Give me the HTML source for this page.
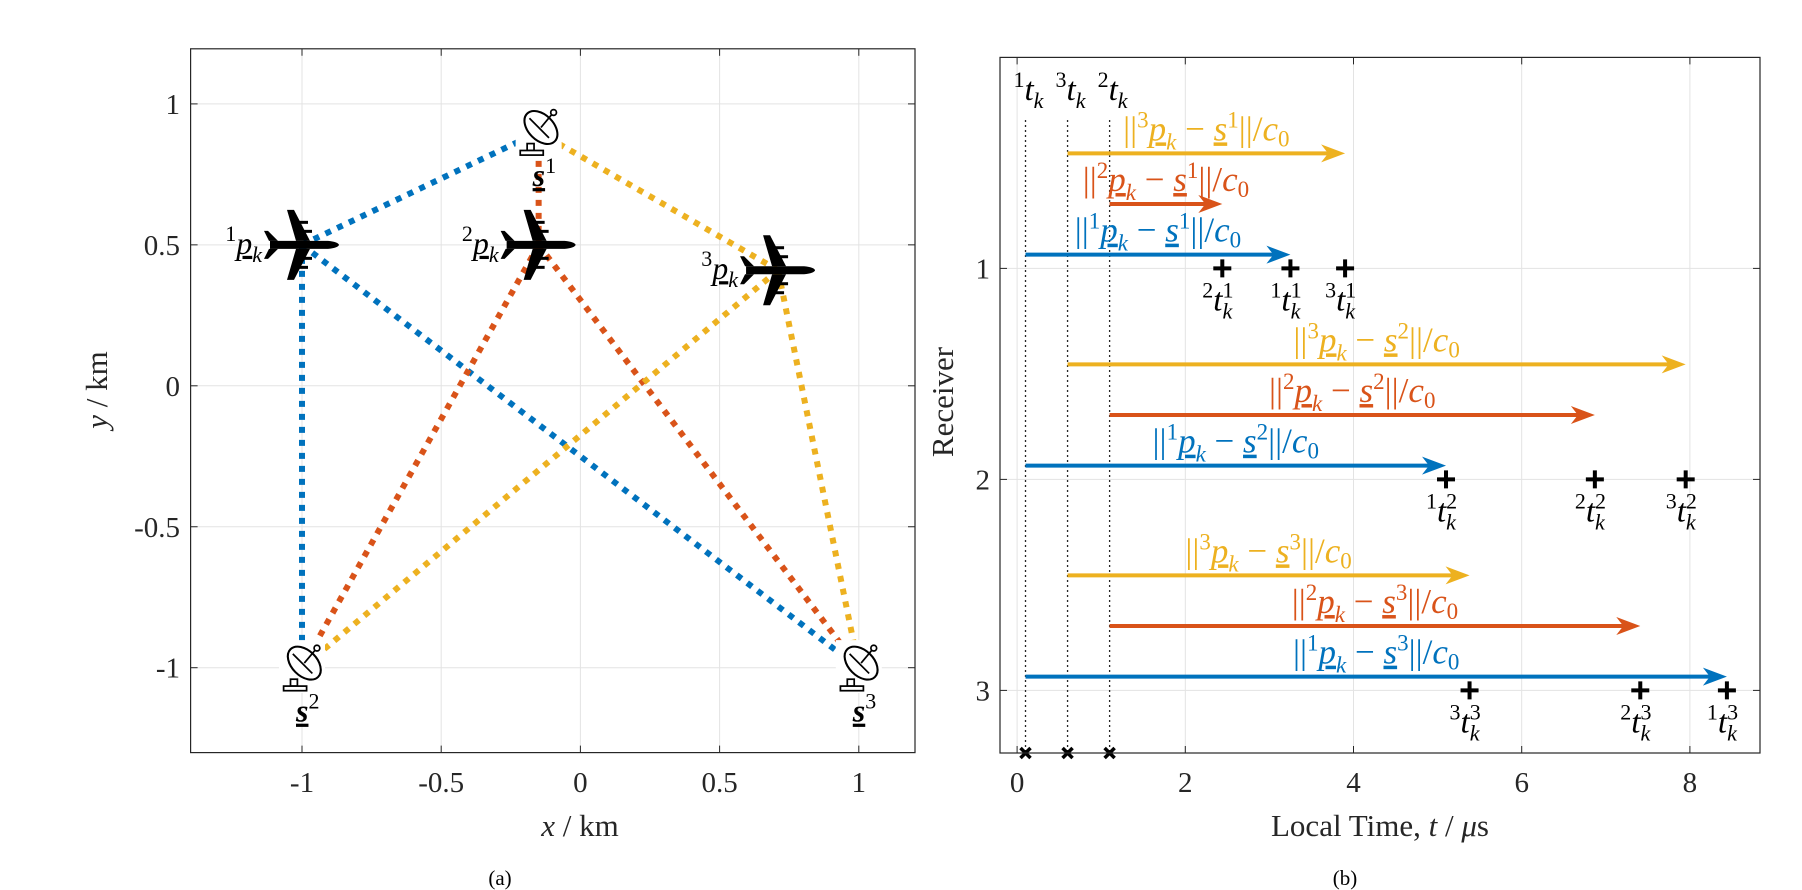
<!DOCTYPE html>
<html><head><meta charset="utf-8"><style>
html,body{margin:0;padding:0;background:#fff;}
svg{display:block;}
text,tspan{font-family:"Liberation Serif","DejaVu Serif",serif;}
</style></head><body>
<svg id="s" width="1802" height="890" viewBox="0 0 1802 890" xmlns="http://www.w3.org/2000/svg"></svg>
<script>
// ---- data (a) ----
const planeX = [-1, -0.15, 0.71];
const planeY = [0.5, 0.5, 0.41];
const sensorX = [-0.15, -1, 1];
const sensorY = [0.9, -1, -1];
const aXTicks = [-1, -0.5, 0, 0.5, 1];
const aXTickLabels = ["-1", "-0.5", "0", "0.5", "1"];
const aYTicks = [1, 0.5, 0, -0.5, -1];
const aYTickLabels = ["1", "0.5", "0", "-0.5", "-1"];
// ---- data (b) ----
const startTimes = [0.1, 1.1, 0.6];          // transmitter 1,2,3
const arrivalsR1 = [3.25, 2.44, 3.9];
const arrivalsR2 = [5.1, 6.87, 7.95];
const arrivalsR3 = [8.44, 7.41, 5.38];
const rowOffsets = [-0.065, -0.305, -0.545];
const bXTicks = [0, 2, 4, 6, 8];
const bXTickLabels = ["0", "2", "4", "6", "8"];
const bYTicks = [1, 2, 3];
const bYTickLabels = ["1", "2", "3"];
const topOrder = [1, 3, 2];

const colors = ["#0072BD", "#D95319", "#EDB120"];
const NS = "http://www.w3.org/2000/svg";
const svg = document.getElementById('s');
function el(tag, attrs, parent) {
  const e = document.createElementNS(NS, tag);
  for (const k in attrs) e.setAttribute(k, attrs[k]);
  (parent || svg).appendChild(e);
  return e;
}
const ax = x => 580.4 + 278.4 * x;
const ay = y => 385.8 - 281.9 * y;
const bx = t => 1017.1 + 84.1 * t;
const by = r => 57.4 + 211 * r;

// ---------- panel (a) ----------
const A = {l: 190.6, r: 915, t: 48.8, b: 752.6};
const B = {l: 1000, r: 1760, t: 57.4, b: 753};
aXTicks.forEach(v => {
  const g = el('line', {x1: ax(v), x2: ax(v), y1: A.t, y2: A.b, stroke: '#e3e3e3', 'stroke-width': 1});
  
  
});
aYTicks.forEach(v => {
  const g = el('line', {x1: A.l, x2: A.r, y1: ay(v), y2: ay(v), stroke: '#e3e3e3', 'stroke-width': 1});
  
  
});
bXTicks.forEach(v => {
  const g = el('line', {x1: bx(v), x2: bx(v), y1: B.t, y2: B.b, stroke: '#e3e3e3', 'stroke-width': 1});
  
  
});
bYTicks.forEach(v => {
  const g = el('line', {x1: B.l, x2: B.r, y1: by(v), y2: by(v), stroke: '#e3e3e3', 'stroke-width': 1});
  
  
});

for (let i = 0; i < 3; i++) {
  for (let j = 0; j < 3; j++) {
    const l = el('line', {x1: ax(planeX[i]), y1: ay(planeY[i]), x2: ax(sensorX[j]), y2: ay(sensorY[j]),
      stroke: colors[i], 'stroke-width': 6, 'stroke-dasharray': '6 7'});
    
    
  }
}
for (let j = 0; j < 3; j++) {
  const g = el('g', {transform: `translate(${ax(sensorX[j])},${ay(sensorY[j])}) scale(1.15)`});
  
  
  el('rect', {x: -20, y: -24, width: 40, height: 46, fill: '#fff'}, g);
  el('ellipse', {cx: 2, cy: -4, rx: 17, ry: 11, transform: 'rotate(45 2 -4)', fill: '#fff', stroke: '#000', 'stroke-width': 1.8}, g);
  el('line', {x1: -8, y1: -12, x2: 9, y2: 5, stroke: '#000', 'stroke-width': 1.5}, g);
  el('line', {x1: 2, y1: -4, x2: 12, y2: -16, stroke: '#000', 'stroke-width': 1.5}, g);
  el('circle', {cx: 13, cy: -17, r: 2.5, fill: '#fff', stroke: '#000', 'stroke-width': 1.5}, g);
  el('rect', {x: -10, y: 10, width: 6, height: 6, fill: '#fff', stroke: '#000', 'stroke-width': 1.5}, g);
  el('rect', {x: -16, y: 16, width: 20, height: 4, fill: '#fff', stroke: '#000', 'stroke-width': 1.5}, g);
  const t = el('text', {x: ax(sensorX[j]) - 6, y: ay(sensorY[j]) + 54, 'font-size': 32, fill: '#000'});
  
  
  t.innerHTML = `<tspan font-style="italic" font-weight="bold" text-decoration="underline">s</tspan><tspan dy="-13" font-size="22">${j + 1}</tspan>`;
}
for (let i = 0; i < 3; i++) {
  const g = el('g', {transform: `translate(${ax(planeX[i])},${ay(planeY[i])})`});
  
  
  el('path', {d: 'M-32,-4 L26,-4 Q36,-3 37,0 Q36,3 26,4 L-32,4 Z', fill: '#000'}, g);
  el('path', {d: 'M8,-4 L-8,-35 L-15,-35 L-6,-4 Z', fill: '#000'}, g);
  el('path', {d: 'M8,4 L-8,35 L-15,35 L-6,4 Z', fill: '#000'}, g);
  el('path', {d: 'M-24,-4 L-34,-14 L-38,-14 L-33,-4 Z', fill: '#000'}, g);
  el('path', {d: 'M-24,4 L-34,14 L-38,14 L-33,4 Z', fill: '#000'}, g);
  el('rect', {x: -6, y: -24, width: 12, height: 3, fill: '#000'}, g);
  el('rect', {x: -2, y: -15, width: 12, height: 3, fill: '#000'}, g);
  el('rect', {x: -6, y: 21, width: 12, height: 3, fill: '#000'}, g);
  el('rect', {x: -2, y: 12, width: 12, height: 3, fill: '#000'}, g);
  const t = el('text', {x: ax(planeX[i]) - 40, y: ay(planeY[i]) + 9, 'font-size': 32, 'text-anchor': 'end', fill: '#000'});
  
  
  t.innerHTML = `<tspan dy="-13" font-size="22">${i + 1}</tspan><tspan dy="13" font-style="italic" text-decoration="underline">p</tspan><tspan dy="8" font-size="22" font-style="italic">k</tspan>`;
}
const boxA = el('rect', {x: A.l, y: A.t, width: A.r - A.l, height: A.b - A.t, fill: 'none', stroke: '#262626', 'stroke-width': 1.2});


aXTicks.forEach((v, k) => {
  el('line', {x1: ax(v), x2: ax(v), y1: A.b, y2: A.b - 7, stroke: '#262626'});
  el('line', {x1: ax(v), x2: ax(v), y1: A.t, y2: A.t + 7, stroke: '#262626'});
  const t = el('text', {x: ax(v), y: 792, 'font-size': 29, 'text-anchor': 'middle', fill: '#262626'});
  
  
  t.textContent = aXTickLabels[k];
});
aYTicks.forEach((v, k) => {
  el('line', {x1: A.l, x2: A.l + 7, y1: ay(v), y2: ay(v), stroke: '#262626'});
  el('line', {x1: A.r, x2: A.r - 7, y1: ay(v), y2: ay(v), stroke: '#262626'});
  const t = el('text', {x: 180, y: ay(v) + 10, 'font-size': 29, 'text-anchor': 'end', fill: '#262626'});
  
  
  t.textContent = aYTickLabels[k];
});
let t = el('text', {x: 580, y: 836, 'font-size': 31, 'text-anchor': 'middle', fill: '#262626'});


t.innerHTML = '<tspan font-style="italic">x</tspan>  /  km';
t = el('text', {x: 0, y: 0, 'font-size': 31, 'text-anchor': 'middle', fill: '#262626', transform: 'translate(107,390) rotate(-90)'});


t.innerHTML = '<tspan font-style="italic">y</tspan>  /  km';
t = el('text', {x: 500, y: 885, 'font-size': 21, 'text-anchor': 'middle', fill: '#000'});


t.textContent = '(a)';

// ---------- panel (b) ----------
startTimes.forEach((v, i) => {
  const l = el('line', {x1: bx(v), x2: bx(v), y1: 120, y2: B.b, stroke: '#262626', 'stroke-width': 1.3, 'stroke-dasharray': '2 3'});
  
  
});
function normLabel(n, j) {
  return `<tspan>||</tspan><tspan dy="-13" font-size="23">${n}</tspan><tspan dy="13" font-style="italic" text-decoration="underline">p</tspan><tspan dy="9" font-size="23" font-style="italic">k</tspan><tspan dy="-9"> − </tspan><tspan font-style="italic" text-decoration="underline">s</tspan><tspan dy="-13" font-size="23">${j}</tspan><tspan dy="13">||/</tspan><tspan font-style="italic">c</tspan><tspan dy="6" font-size="23">0</tspan>`;
}
const arrivals = [arrivalsR1, arrivalsR2, arrivalsR3];
arrivals.forEach((row, r) => {
  const rx = r + 1;
  [2, 1, 0].forEach(i => {
    const y = by(rx + rowOffsets[i]);
    const x0 = bx(startTimes[i]), x1 = bx(row[i]);
    const ln = el('line', {x1: x0, x2: x1 - 14, y1: y, y2: y, stroke: colors[i], 'stroke-width': 4});
    
    
    const hd = el('polygon', {points: `${x1},${y} ${x1 - 24},${y - 9} ${x1 - 17},${y} ${x1 - 24},${y + 9}`, fill: colors[i]});
    
    
    const lt = el('text', {x: (x0 + x1) / 2, y: y - 13, 'font-size': 35, 'text-anchor': 'middle', fill: colors[i]});
    
    
    lt.innerHTML = normLabel(i + 1, rx);
  });
  row.forEach((v, i) => {
    const cx = bx(v), cy = by(rx);
    const m = el('path', {d: `M${cx - 9},${cy}H${cx + 9}M${cx},${cy - 9}V${cy + 9}`, stroke: '#000', 'stroke-width': 4});
    
    
    const ml = el('text', {x: cx - 20, y: cy + 42, 'font-size': 33, fill: '#000'});
    
    
    ml.innerHTML = `<tspan dy="-13" font-size="22">${i + 1}</tspan><tspan dy="13" font-style="italic">t</tspan><tspan dy="-13" font-size="22">${rx}</tspan><tspan dx="-11" dy="21" font-size="22" font-style="italic">k</tspan>`;
  });
});
startTimes.forEach((v, i) => {
  const cx = bx(v), cy = B.b;
  const m = el('path', {d: `M${cx - 5},${cy - 5}L${cx + 5},${cy + 5}M${cx - 5},${cy + 5}L${cx + 5},${cy - 5}`, stroke: '#000', 'stroke-width': 3.5});
  
  
});
topOrder.forEach(n => {
  const cx = bx(startTimes[n - 1]);
  const tl = el('text', {x: cx - 12, y: 100, 'font-size': 33, fill: '#000'});
  
  
  tl.innerHTML = `<tspan dy="-13" font-size="22">${n}</tspan><tspan dy="13" font-style="italic">t</tspan><tspan dy="8" font-size="22" font-style="italic">k</tspan>`;
});
const boxB = el('rect', {x: B.l, y: B.t, width: B.r - B.l, height: B.b - B.t, fill: 'none', stroke: '#262626', 'stroke-width': 1.2});


bXTicks.forEach((v, k) => {
  el('line', {x1: bx(v), x2: bx(v), y1: B.b, y2: B.b - 7, stroke: '#262626'});
  el('line', {x1: bx(v), x2: bx(v), y1: B.t, y2: B.t + 7, stroke: '#262626'});
  const tt = el('text', {x: bx(v), y: 792, 'font-size': 29, 'text-anchor': 'middle', fill: '#262626'});
  
  
  tt.textContent = bXTickLabels[k];
});
bYTicks.forEach((v, k) => {
  el('line', {x1: B.l, x2: B.l + 7, y1: by(v), y2: by(v), stroke: '#262626'});
  el('line', {x1: B.r, x2: B.r - 7, y1: by(v), y2: by(v), stroke: '#262626'});
  const tt = el('text', {x: 990, y: by(v) + 10, 'font-size': 29, 'text-anchor': 'end', fill: '#262626'});
  
  
  tt.textContent = bYTickLabels[k];
});
t = el('text', {x: 1380, y: 836, 'font-size': 31, 'text-anchor': 'middle', fill: '#262626'});


t.innerHTML = 'Local Time,   <tspan font-style="italic">t</tspan>  /  <tspan font-style="italic">μ</tspan>s';
t = el('text', {x: 0, y: 0, 'font-size': 31, 'text-anchor': 'middle', fill: '#262626', transform: 'translate(953,402) rotate(-90)'});


t.textContent = 'Receiver';
t = el('text', {x: 1345, y: 885, 'font-size': 21, 'text-anchor': 'middle', fill: '#000'});


t.textContent = '(b)';
</script>
</body></html>
